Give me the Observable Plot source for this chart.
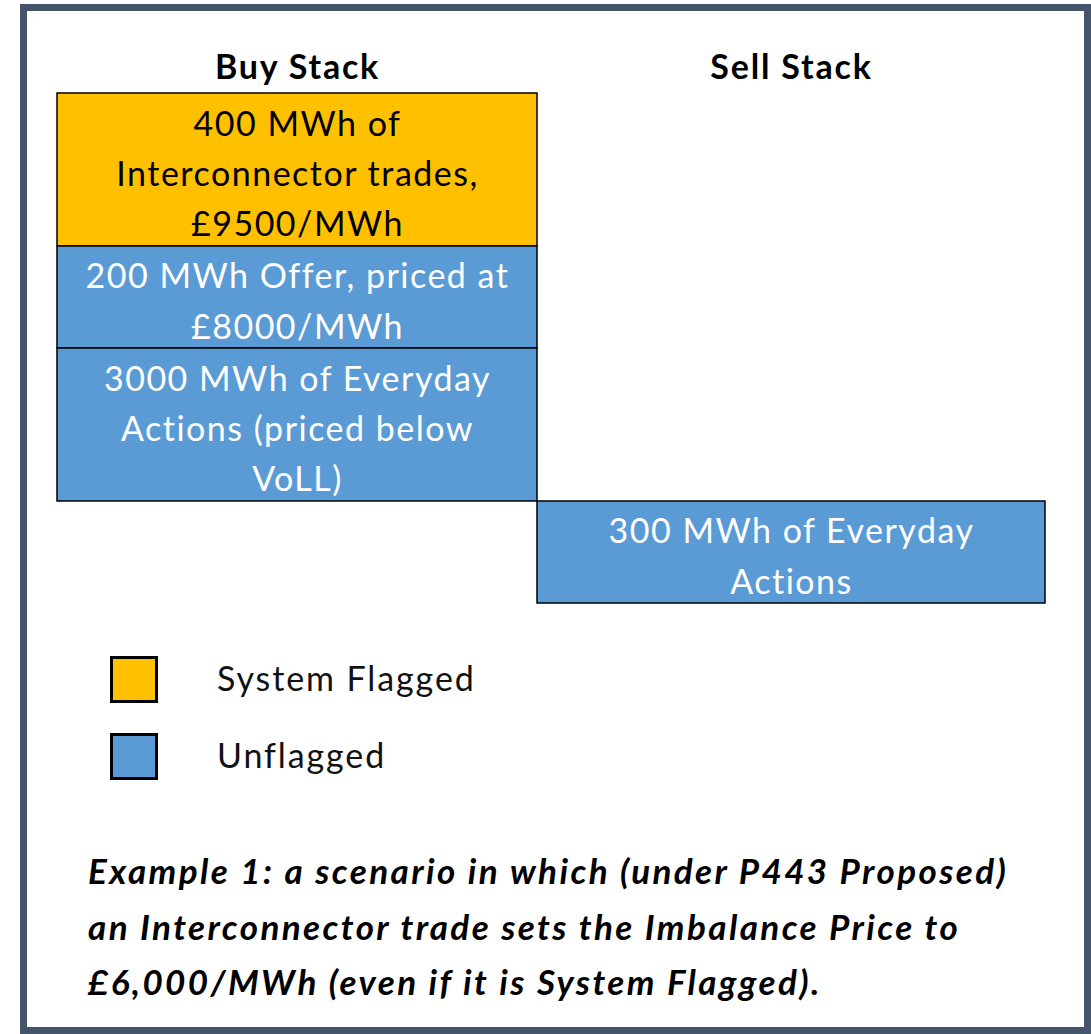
<!DOCTYPE html>
<html>
<head>
<meta charset="utf-8">
<script src="https://cdn.jsdelivr.net/npm/d3@7"></script>
<script src="https://cdn.jsdelivr.net/npm/@observablehq/plot@0.6"></script>
<style>
  html, body { margin: 0; padding: 0; background: #fff; }
  body { position: relative; width: 1091px; height: 1034px; overflow: hidden; font-family: Lato, "Open Sans", sans-serif; }
  #frame { position: absolute; left: 20px; top: 4px; width: 1071px; height: 1030px; box-sizing: border-box; border: 7px solid #44546A; }
  #chart { position: absolute; left: 0; top: 0; }
  #chart text { letter-spacing: 1.5px; }
  #chart g[aria-label="x-axis tick label"] text { letter-spacing: 1.8px; }
  #legend { position: absolute; left: 0; top: 0; }
  .sw { position: absolute; left: 110px; width: 48px; height: 47px; box-sizing: border-box; border: 3px solid #000; }
  .lt { position: absolute; left: 217px; font-size: 34px; letter-spacing: 1.9px; color: #111; line-height: 47px; white-space: nowrap; }
  #caption { position: absolute; left: 88px; top: 843px; font-size: 35px; letter-spacing: 2.4px; font-weight: bold; font-style: italic; line-height: 55.5px; color: #000; white-space: nowrap; }
</style>
</head>
<body>
<div id="frame"></div>
<div id="chart"></div>
<div id="legend"></div>
<div id="caption"></div>
<script>
// ---- data ----
const stacks = ["Buy Stack", "Sell Stack"];
const blockStack = ["Buy Stack", "Buy Stack", "Buy Stack", "Sell Stack"];
const blockLabels = [
  "400 MWh of\nInterconnector trades,\n£9500/MWh",
  "200 MWh Offer, priced at\n£8000/MWh",
  "3000 MWh of Everyday\nActions (priced below\nVoLL)",
  "300 MWh of Everyday\nActions"
];
const blockLines = [3, 2, 3, 2];
const blockFlag = ["System Flagged", "Unflagged", "Unflagged", "Unflagged"];
const flagNames = ["System Flagged", "Unflagged"];
const flagColors = ["#FFC000", "#5B9BD5"];
const flagTextColors = ["#000000", "#FFFFFF"];
const captionLines = [
  "Example 1: a scenario in which (under P443 Proposed)",
  "an Interconnector trade sets the Imbalance Price to",
  "£6,000/MWh (even if it is System Flagged)."
];

// build table
let acc = 0;
const blocks = blockLabels.map((label, i) => {
  const row = {stack: blockStack[i], label, flag: blockFlag[i], y1: acc, y2: acc + blockLines[i]};
  acc += blockLines[i];
  return row;
});
const totalLines = acc;
const textColor = f => flagTextColors[flagNames.indexOf(f)];
const isBuy = d => d.stack === stacks[0];

const barOpts = {x: "stack", y1: "y1", y2: "y2", fill: "flag", stroke: "#000", strokeWidth: 1.5};
const textOpts = {x: "stack", y: d => (d.y1 + d.y2) / 2, text: "label", fontSize: 34, lineHeight: 1.48, lineAnchor: "middle", textAnchor: "middle"};

const chart = Plot.plot({
  width: 1091,
  height: 620,
  marginTop: 93,
  marginBottom: 17,
  marginLeft: 50,
  marginRight: 53,
  x: {type: "band", domain: stacks, padding: 0, label: null},
  y: {domain: [0, totalLines], reverse: true, axis: null},
  color: {domain: flagNames, range: flagColors},
  style: {fontFamily: "Lato, 'Open Sans', sans-serif", background: "transparent", overflow: "visible"},
  marks: [
    Plot.axisX({anchor: "top", tickSize: 0, tickPadding: 15, fontSize: 34, fontWeight: "bold", fill: "#000", label: null}),
    Plot.barY(blocks.filter(isBuy), {...barOpts, insetLeft: 7, insetRight: 7}),
    Plot.barY(blocks.filter(d => !isBuy(d)), {...barOpts, insetLeft: -7, insetRight: -7}),
    Plot.text(blocks.filter(d => textColor(d.flag) === "#000000"), {...textOpts, fill: "#000"}),
    Plot.text(blocks.filter(d => textColor(d.flag) !== "#000000"), {...textOpts, fill: "#fff"})
  ]
});
document.getElementById("chart").appendChild(chart);

// legend
const legend = document.getElementById("legend");
const legendTops = [656, 733];
flagNames.forEach((name, i) => {
  const sw = document.createElement("div");
  sw.className = "sw";
  sw.style.top = legendTops[i] + "px";
  sw.style.background = flagColors[i];
  legend.appendChild(sw);
  const t = document.createElement("div");
  t.className = "lt";
  t.style.top = (legendTops[i] - 2) + "px";
  t.textContent = name;
  legend.appendChild(t);
});

// caption
const cap = document.getElementById("caption");
captionLines.forEach(line => {
  const d = document.createElement("div");
  d.textContent = line;
  cap.appendChild(d);
});
</script>
</body>
</html>
